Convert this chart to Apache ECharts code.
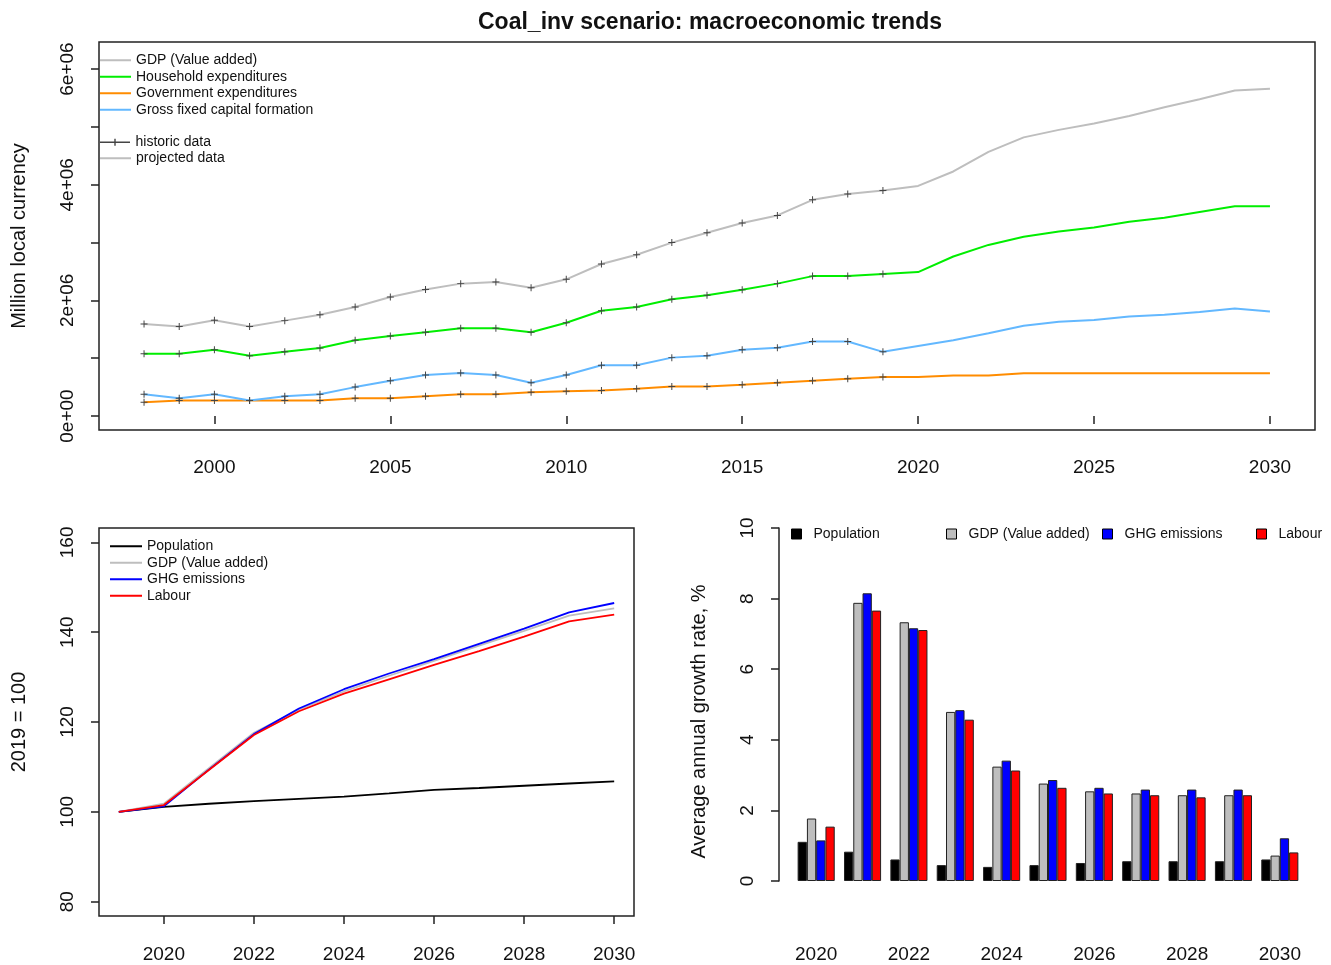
<!DOCTYPE html>
<html>
<head>
<meta charset="utf-8">
<title>Coal_inv scenario: macroeconomic trends</title>
<script src="https://cdn.jsdelivr.net/npm/echarts@6/dist/echarts.min.js"></script>
<style>
  html, body { margin: 0; padding: 0; background: #fff; }
  #main { width: 1331px; height: 965px; }
</style>
</head>
<body>
<div id="main"></div>
<script>
// 历史年份与预测年份
const histYears = [1998, 1999, 2000, 2001, 2002, 2003, 2004, 2005, 2006, 2007, 2008,
                   2009, 2010, 2011, 2012, 2013, 2014, 2015, 2016, 2017, 2018, 2019];
const projYears = [2020, 2021, 2022, 2023, 2024, 2025, 2026, 2027, 2028, 2029, 2030];

// 上图：宏观经济总量（百万本币）
const gdpHist = [1.59e6, 1.55e6, 1.655e6, 1.55e6, 1.65e6, 1.75e6, 1.886e6, 2.06e6, 2.19e6, 2.29e6, 2.32e6,
                 2.22e6, 2.365e6, 2.63e6, 2.79e6, 3.0e6, 3.17e6, 3.34e6, 3.47e6, 3.74e6, 3.84e6, 3.9e6];
const gdpProj = [3.98e6, 4.23e6, 4.57e6, 4.82e6, 4.95e6, 5.06e6, 5.19e6, 5.34e6, 5.48e6, 5.63e6, 5.66e6];
const hhHist = [1.078e6, 1.078e6, 1.147e6, 1.043e6, 1.112e6, 1.176e6, 1.31e6, 1.384e6, 1.448e6, 1.517e6, 1.517e6,
                1.448e6, 1.614e6, 1.82e6, 1.886e6, 2.02e6, 2.09e6, 2.185e6, 2.29e6, 2.42e6, 2.42e6, 2.457e6];
const hhProj = [2.49e6, 2.76e6, 2.96e6, 3.1e6, 3.19e6, 3.26e6, 3.36e6, 3.43e6, 3.53e6, 3.63e6, 3.63e6];
const govHist = [0.237e6, 0.27e6, 0.27e6, 0.27e6, 0.27e6, 0.27e6, 0.306e6, 0.306e6, 0.34e6, 0.375e6, 0.375e6,
                 0.41e6, 0.43e6, 0.44e6, 0.47e6, 0.51e6, 0.51e6, 0.54e6, 0.576e6, 0.61e6, 0.645e6, 0.675e6];
const govProj = [0.675e6, 0.7e6, 0.7e6, 0.74e6, 0.74e6, 0.74e6, 0.74e6, 0.74e6, 0.74e6, 0.74e6, 0.74e6];
const gfcfHist = [0.375e6, 0.306e6, 0.375e6, 0.27e6, 0.34e6, 0.375e6, 0.5e6, 0.61e6, 0.71e6, 0.744e6, 0.71e6,
                  0.576e6, 0.71e6, 0.877e6, 0.877e6, 1.01e6, 1.043e6, 1.147e6, 1.18e6, 1.29e6, 1.29e6, 1.11e6];
const gfcfProj = [1.21e6, 1.31e6, 1.43e6, 1.56e6, 1.63e6, 1.66e6, 1.72e6, 1.75e6, 1.8e6, 1.86e6, 1.81e6];

// 左下：指数 (2019 = 100)
const idxYears = [2019, 2020, 2021, 2022, 2023, 2024, 2025, 2026, 2027, 2028, 2029, 2030];
const popIdx = [100, 101.1, 101.8, 102.4, 102.9, 103.4, 104.1, 104.9, 105.3, 105.8, 106.3, 106.8];
const gdpIdx = [100, 101.8, 109.7, 117.6, 122.8, 126.8, 130.3, 133.6, 137.0, 140.3, 143.7, 145.3];
const ghgIdx = [100, 101.2, 109.4, 117.3, 123.0, 127.3, 130.8, 134.0, 137.4, 140.8, 144.4, 146.5];
const labIdx = [100, 101.5, 109.3, 117.1, 122.4, 126.3, 129.5, 132.7, 135.8, 139.0, 142.4, 143.9];

// 右下：年均增长率 (%)
const growthCats = ['2020', '2021', '2022', '2023', '2024', '2025', '2026', '2027', '2028', '2029', '2030'];
const popGrowth = [1.11, 0.83, 0.61, 0.45, 0.40, 0.45, 0.51, 0.56, 0.56, 0.56, 0.61];
const gdpGrowth = [1.77, 7.88, 7.33, 4.79, 3.24, 2.76, 2.54, 2.48, 2.43, 2.43, 0.72];
const ghgGrowth = [1.15, 8.15, 7.16, 4.84, 3.41, 2.86, 2.64, 2.59, 2.59, 2.59, 1.21];
const labGrowth = [1.54, 7.66, 7.11, 4.57, 3.13, 2.64, 2.48, 2.43, 2.37, 2.43, 0.81];

// 刻度
const topXTicks = [2000, 2005, 2010, 2015, 2020, 2025, 2030];
const topYTicks = [0, 1e6, 2e6, 3e6, 4e6, 5e6, 6e6];
const topYLabels = [0, 2e6, 4e6, 6e6];
const idxXTicks = [2020, 2022, 2024, 2026, 2028, 2030];
const idxYTicks = [80, 100, 120, 140, 160];

const FONT = '"Liberation Sans", Arial, sans-serif';
const INK = '#111';
const PLUS = 'path://M0,4.3h10v1.4h-10zM4.3,0h1.4v10h-1.4z';

const C = {
    gdp: '#bebebe',
    hh: '#00ee00',
    gov: '#ff8c00',
    gfcf: '#63b8ff',
    pop: '#000000',
    ghg: '#0000ff',
    lab: '#ff0000',
    hist: '#444444'
};

function pairs(xs, ys) {
    return xs.map((x, i) => [x, ys[i]]);
}

// 上图一条变量：历史段带 + 号，预测段不带
function topSeries(name, color, hist, proj) {
    const last = [histYears[histYears.length - 1], hist[hist.length - 1]];
    return [
        {
            name: name, type: 'line', xAxisIndex: 0, yAxisIndex: 0,
            data: pairs(histYears, hist),
            symbol: PLUS, symbolSize: 7,
            itemStyle: { color: C.hist, borderWidth: 0 },
            lineStyle: { color: color, width: 2 },
            z: 3
        },
        {
            name: name, type: 'line', xAxisIndex: 0, yAxisIndex: 0,
            data: [last].concat(pairs(projYears, proj)),
            symbol: 'none',
            itemStyle: { color: color },
            lineStyle: { color: color, width: 2 },
            z: 2
        }
    ];
}

function idxSeries(name, color, values) {
    return {
        name: name, type: 'line', xAxisIndex: 1, yAxisIndex: 1,
        data: pairs(idxYears, values),
        symbol: 'none',
        itemStyle: { color: color },
        lineStyle: { color: color, width: 1.8 }
    };
}

function barSeries(name, color, values) {
    return {
        name: name, type: 'bar', xAxisIndex: 2, yAxisIndex: 2,
        data: values,
        barGap: '0%', barCategoryGap: '20%',
        itemStyle: { color: color, borderColor: '#222', borderWidth: 1 }
    };
}

function lineLegendItem(name, color) {
    return { name: name, itemStyle: { color: color, borderWidth: 0 } };
}

function barLegend(left, name, color) {
    return {
        left: left, top: 526, padding: 0, icon: 'rect', itemWidth: 10, itemHeight: 10, selectedMode: false,
        textStyle: { fontFamily: FONT, fontSize: 14, color: INK, lineHeight: 16, padding: [0, 0, 0, 7] },
        data: [{ name: name, itemStyle: { color: color, borderColor: '#000', borderWidth: 1 } }]
    };
}

const legendText = { fontFamily: FONT, fontSize: 14, color: INK, lineHeight: 16.5 };
const tickLabel = { fontFamily: FONT, fontSize: 19, color: INK };
const nameText = { fontFamily: FONT, fontSize: 20, color: INK };
const yearFmt = v => String(v);

function initChart() {
    const chart = echarts.init(document.getElementById('main'), null, { renderer: 'canvas' });

    const series = [].concat(
        topSeries('GDP (Value added)', C.gdp, gdpHist, gdpProj),
        topSeries('Household expenditures', C.hh, hhHist, hhProj),
        topSeries('Government expenditures', C.gov, govHist, govProj),
        topSeries('Gross fixed capital formation', C.gfcf, gfcfHist, gfcfProj),
        [
            // 图例用的空系列
            { name: 'historic data', type: 'line', xAxisIndex: 0, yAxisIndex: 0, data: [], itemStyle: { color: C.hist } },
            { name: 'projected data', type: 'line', xAxisIndex: 0, yAxisIndex: 0, data: [], itemStyle: { color: C.gdp } },
            idxSeries('Population', C.pop, popIdx),
            idxSeries('GDP (Value added)', C.gdp, gdpIdx),
            idxSeries('GHG emissions', C.ghg, ghgIdx),
            idxSeries('Labour', C.lab, labIdx),
            barSeries('Population', C.pop, popGrowth),
            barSeries('GDP (Value added)', C.gdp, gdpGrowth),
            barSeries('GHG emissions', C.ghg, ghgGrowth),
            barSeries('Labour', C.lab, labGrowth)
        ]
    );

    const option = {
        backgroundColor: '#fff',
        animation: false,
        title: {
            text: 'Coal_inv scenario: macroeconomic trends',
            left: 705, top: 6, textAlign: 'center',
            textStyle: { fontFamily: FONT, fontSize: 23, fontWeight: 'bold', color: INK }
        },
        legend: [
            {
                left: 100, top: 52, padding: 0, orient: 'vertical', icon: 'rect', itemWidth: 31, itemHeight: 2, itemGap: 0,
                selectedMode: false, textStyle: legendText,
                data: [
                    lineLegendItem('GDP (Value added)', C.gdp),
                    lineLegendItem('Household expenditures', C.hh),
                    lineLegendItem('Government expenditures', C.gov),
                    lineLegendItem('Gross fixed capital formation', C.gfcf)
                ]
            },
            {
                left: 100, top: 134, padding: 0, icon: 'path://M0,4.3h30v1.4h-30zM14.3,1.5h1.4v7h-1.4z',
                itemWidth: 31, itemHeight: 7, selectedMode: false, textStyle: legendText,
                data: [lineLegendItem('historic data', C.hist)]
            },
            {
                left: 100, top: 150, padding: 0, icon: 'rect', itemWidth: 31, itemHeight: 2, selectedMode: false,
                textStyle: legendText,
                data: [lineLegendItem('projected data', C.gdp)]
            },
            {
                left: 110, top: 538, padding: 0, orient: 'vertical', icon: 'rect', itemWidth: 32, itemHeight: 2, itemGap: 0,
                selectedMode: false, textStyle: legendText,
                data: [
                    lineLegendItem('Population', C.pop),
                    lineLegendItem('GDP (Value added)', C.gdp),
                    lineLegendItem('GHG emissions', C.ghg),
                    lineLegendItem('Labour', C.lab)
                ]
            },
            barLegend(791, 'Population', C.pop),
            barLegend(946, 'GDP (Value added)', C.gdp),
            barLegend(1102, 'GHG emissions', C.ghg),
            barLegend(1256, 'Labour', C.lab)
        ],
        grid: [
            { left: 99, top: 42, width: 1216, height: 388, show: true, borderColor: '#222', borderWidth: 1.5, backgroundColor: 'transparent' },
            { left: 99, top: 528, width: 535, height: 388, show: true, borderColor: '#222', borderWidth: 1.5, backgroundColor: 'transparent' },
            { left: 793, top: 528, width: 510, height: 353 }
        ],
        xAxis: [
            {
                gridIndex: 0, type: 'value', min: 1996.72, max: 2031.28,
                axisLine: { show: false },
                axisTick: { show: true, length: 8, customValues: topXTicks, lineStyle: { color: '#222', width: 1.5 } },
                axisLabel: Object.assign({ customValues: topXTicks, margin: 28, formatter: yearFmt }, tickLabel),
                splitLine: { show: false }
            },
            {
                gridIndex: 1, type: 'value', min: 2018.56, max: 2030.44,
                axisLine: { show: false },
                axisTick: { show: true, length: 8, customValues: idxXTicks, lineStyle: { color: '#222', width: 1.5 } },
                axisLabel: Object.assign({ customValues: idxXTicks, margin: 29, formatter: yearFmt }, tickLabel),
                splitLine: { show: false }
            },
            {
                gridIndex: 2, type: 'category', data: growthCats,
                axisLine: { show: false },
                axisTick: { show: false },
                axisLabel: Object.assign({ interval: 1, margin: 64 }, tickLabel),
                splitLine: { show: false }
            }
        ],
        yAxis: [
            {
                gridIndex: 0, type: 'value', min: -0.242e6, max: 6.47e6,
                name: 'Million local currency', nameLocation: 'middle', nameGap: 70, nameRotate: 90,
                nameTextStyle: nameText,
                axisLine: { show: false },
                axisTick: { show: true, length: 8, customValues: topYTicks, lineStyle: { color: '#222', width: 1.5 } },
                axisLabel: Object.assign({
                    customValues: topYLabels, rotate: 90, margin: 22,
                    formatter: v => v === 0 ? '0e+00' : (v / 1e6) + 'e+06'
                }, tickLabel),
                splitLine: { show: false }
            },
            {
                gridIndex: 1, type: 'value', min: 76.8, max: 163.2,
                name: '2019 = 100', nameLocation: 'middle', nameGap: 70, nameRotate: 90,
                nameTextStyle: nameText,
                axisLine: { show: false },
                axisTick: { show: true, length: 8, customValues: idxYTicks, lineStyle: { color: '#222', width: 1.5 } },
                axisLabel: Object.assign({ customValues: idxYTicks, rotate: 90, margin: 22 }, tickLabel),
                splitLine: { show: false }
            },
            {
                gridIndex: 2, type: 'value', min: 0, max: 10, interval: 2, offset: 14,
                name: 'Average annual growth rate, %', nameLocation: 'middle', nameGap: 70, nameRotate: 90,
                // 名称按 R 的绘图区居中，比坐标轴中点略低
                nameTextStyle: Object.assign({ padding: [0, 34, 0, 0] }, nameText),
                axisLine: { show: true, lineStyle: { color: '#222', width: 1.5 } },
                axisTick: { show: true, length: 8, lineStyle: { color: '#222', width: 1.5 } },
                axisLabel: Object.assign({ rotate: 90, margin: 22 }, tickLabel),
                splitLine: { show: false }
            }
        ],
        series: series
    };

    chart.setOption(option);
}

initChart();
</script>
</body>
</html>
